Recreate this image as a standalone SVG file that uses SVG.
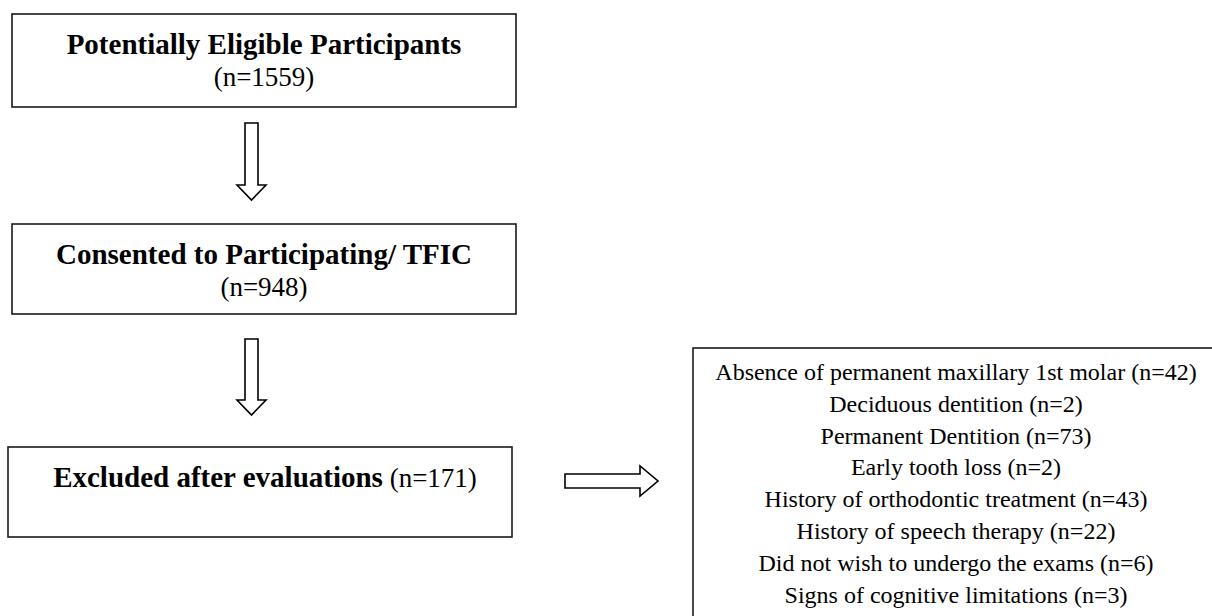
<svg xmlns="http://www.w3.org/2000/svg" width="1212" height="616" viewBox="0 0 1212 616">
<style>
.box{fill:#fff;stroke:#1a1a1a;stroke-width:1.6}
.arr{fill:#fff;stroke:#000;stroke-width:1.6;stroke-linejoin:miter}
.t{font-family:"Liberation Serif","Times New Roman",serif;fill:#000;text-anchor:middle}
.b{font-weight:bold;font-size:29px}
.r{font-size:27px}
.s{font-size:24px}
</style>
<rect width="1212" height="616" fill="#fff"/>
<g id="n1">
<rect class="box" x="12" y="14" width="504" height="93"/>
<text class="t b" x="264" y="54">Potentially Eligible Participants</text>
<text class="t r" x="264" y="86">(n=1559)</text>
</g>
<g id="n2">
<rect class="box" x="12" y="224" width="504" height="90"/>
<text class="t b" x="264" y="264">Consented to Participating/ TFIC</text>
<text class="t r" x="264" y="296">(n=948)</text>
</g>
<g id="n3">
<rect class="box" x="8" y="447" width="504" height="90"/>
<text class="t" x="265" y="487"><tspan font-weight="bold" font-size="29px">Excluded after evaluations</tspan><tspan font-size="27px"> (n=171)</tspan></text>
</g>
<g id="n4">
<rect class="box" x="693" y="348" width="530" height="300"/>
<text class="t s" x="956" y="380">Absence of permanent maxillary 1st molar (n=42)</text>
<text class="t s" x="956" y="411.8">Deciduous dentition (n=2)</text>
<text class="t s" x="956" y="443.6">Permanent Dentition (n=73)</text>
<text class="t s" x="956" y="475.4">Early tooth loss (n=2)</text>
<text class="t s" x="956" y="507.2">History of orthodontic treatment (n=43)</text>
<text class="t s" x="956" y="539">History of speech therapy (n=22)</text>
<text class="t s" x="956" y="570.8">Did not wish to undergo the exams (n=6)</text>
<text class="t s" x="956" y="602.6">Signs of cognitive limitations (n=3)</text>
</g>
<g id="connectors">
<path class="arr" d="M245 123 H258 V185 H266 L251.5 200 L237 185 H245 Z"/>
<path class="arr" d="M245 339 H258 V400 H266 L251.5 415 L237 400 H245 Z"/>
<path class="arr" d="M565 474 H640 V466 L658 481 L640 496 V488 H565 Z"/>
</g>
</svg>
